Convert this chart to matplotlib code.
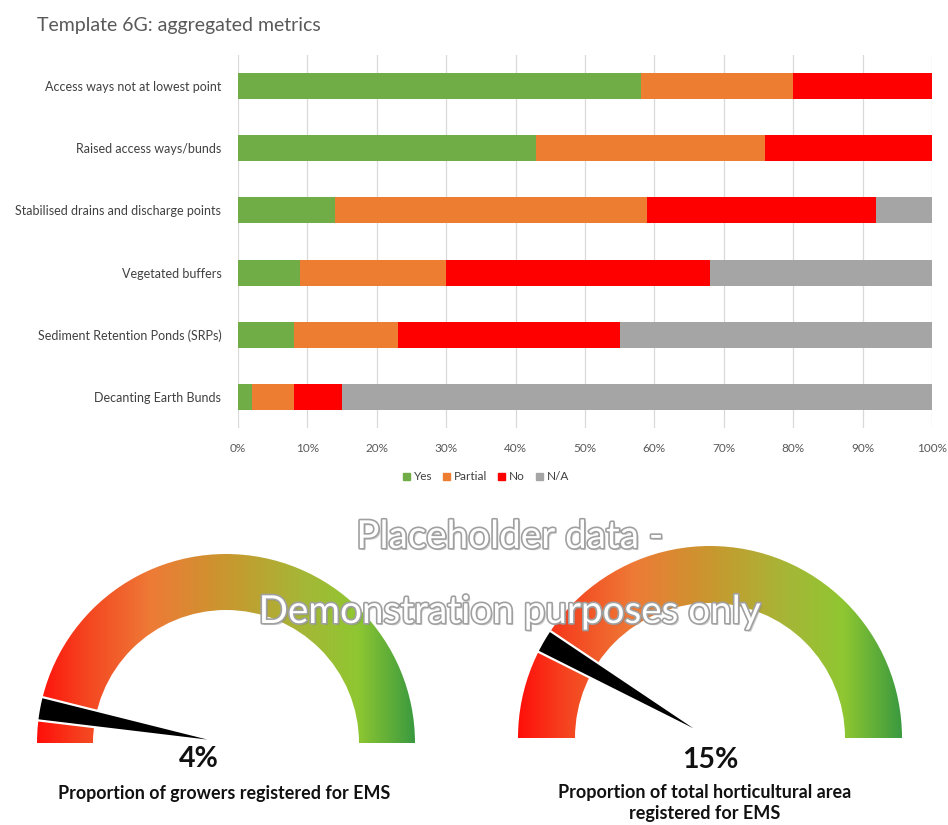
import numpy as np
import matplotlib
matplotlib.use("Agg")
import matplotlib.pyplot as plt
from matplotlib.patches import Wedge, Polygon, Patch
from matplotlib.colors import LinearSegmentedColormap
import matplotlib.patheffects as pe

plt.rcParams['font.family'] = ['Lato', 'DejaVu Sans']

# --- data ---
categories = ["Access ways not at lowest point", "Raised access ways/bunds",
              "Stabilised drains and discharge points", "Vegetated buffers",
              "Sediment Retention Ponds (SRPs)", "Decanting Earth Bunds"]
yes = [58, 43, 14, 9, 8, 2]
partial = [22, 33, 45, 21, 15, 6]
no = [20, 24, 33, 38, 32, 7]
na = [0, 0, 8, 32, 45, 85]
series_names = ["Yes", "Partial", "No", "N/A"]
series_colors = ["#70AD47", "#ED7D31", "#FF0000", "#A5A5A5"]

gauge_values = [4, 15]
gauge_labels = ["Proportion of growers registered for EMS",
                "Proportion of total horticultural area\nregistered for EMS"]

W, H = 948, 825
fig = plt.figure(figsize=(W / 100, H / 100), dpi=100)

fig.text(37 / W, 1 - 25 / H, "Template 6G: aggregated metrics", fontsize=14,
         color="#595959", ha="left", va="center")

# --- stacked bars ---
ax = fig.add_axes([238 / W, 1 - 428 / H, (932 - 238) / W, (428 - 55) / H])
y = np.arange(len(categories))
left = np.zeros(len(categories))
for vals, name, col in zip([yes, partial, no, na], series_names, series_colors):
    ax.barh(y, vals, left=left, height=0.42, color=col, label=name, zorder=2)
    left += np.array(vals)

ax.set_xlim(0, 100)
ax.set_ylim(len(categories) - 0.5, -0.5)
ax.set_yticks(y)
ax.set_yticklabels(categories, fontsize=9, color="#404040")
ax.set_xticks(np.arange(0, 101, 10))
ax.set_xticklabels([f"{v}%" for v in range(0, 101, 10)], fontsize=8.5, color="#595959")
ax.tick_params(axis="both", length=0)
ax.tick_params(axis="y", pad=12)
ax.tick_params(axis="x", pad=11)
ax.grid(axis="x", color="#D9D9D9", lw=0.9, zorder=0)
for s in ax.spines.values():
    s.set_visible(False)

handles = [Patch(color=c, label=n) for n, c in zip(series_names, series_colors)]
fig.legend(handles=handles, loc="center", bbox_to_anchor=(486 / W, 1 - 477 / H),
           ncol=4, frameon=False, fontsize=8.5, handlelength=0.6, handleheight=0.6,
           handletextpad=0.35, columnspacing=0.9, labelcolor="#404040")

# --- gauges on an overlay in pixel units ---
ov = fig.add_axes([0, 0, 1, 1])
ov.set_xlim(0, W)
ov.set_ylim(0, H)
ov.axis("off")

cmap = LinearSegmentedColormap.from_list("gauge", [
    (0.0, "#FF0F0A"), (0.12, "#F5421F"), (0.3, "#EE7A36"), (0.5, "#C9972F"),
    (0.7, "#A6B637"), (0.85, "#8FC731"), (1.0, "#3B9A3F")])
grad = np.linspace(0, 1, 256).reshape(1, -1)

gauges = [(226, 743, 189, 133), (710, 738, 192, 135)]
for (cx, cyp, R, r), val in zip(gauges, gauge_values):
    cy = H - cyp
    ring = Wedge((cx, cy), R, 0, 180, width=R - r, transform=ov.transData)
    im = ov.imshow(grad, extent=[cx - R, cx + R, cy, cy + R], cmap=cmap,
                   aspect="auto", zorder=2)
    im.set_clip_path(ring)
    a1 = 180 - val / 100 * 180
    a2 = a1 - 6.5
    arc = np.radians(np.linspace(a1, a2, 10))
    am = np.radians((a1 + a2) / 2)
    pts = [(cx + R * np.cos(t), cy + R * np.sin(t)) for t in arc]
    pts.append((cx + 0.1 * R * np.cos(am), cy + 0.1 * R * np.sin(am)))
    # white halo first, then the black needle on top
    ov.add_patch(Polygon(pts, closed=True, facecolor="white", edgecolor="white",
                         lw=3.2, zorder=3))
    ov.add_patch(Polygon(pts, closed=True, facecolor="black", edgecolor="none",
                         zorder=3.5))

ov.set_xlim(0, W)
ov.set_ylim(0, H)

ov.text(199, H - 759, f"{gauge_values[0]}%", fontsize=20.5, fontweight="bold",
        ha="center", va="center", color="#111111", zorder=4)
ov.text(224, H - 793, gauge_labels[0], fontsize=12.9, fontweight="bold",
        ha="center", va="center", color="#111111", zorder=4)
ov.text(710, H - 760, f"{gauge_values[1]}%", fontsize=20.5, fontweight="bold",
        ha="center", va="center", color="#111111", zorder=4)
ov.text(705, H - 803, gauge_labels[1], fontsize=13, fontweight="bold",
        ha="center", va="center", color="#111111", linespacing=1.3, zorder=4)

# watermark
wm_fx = [pe.withSimplePatchShadow(offset=(1.5, -1.5), shadow_rgbFace="#777777", alpha=0.35),
         pe.Stroke(linewidth=2.4, foreground="#A0A0A0"), pe.Normal()]
ov.text(510, H - 537, "Placeholder data -", fontsize=27.8, color="white",
        ha="center", va="center", path_effects=wm_fx, zorder=6)
ov.text(510, H - 612, "Demonstration purposes only", fontsize=27.8, color="white",
        ha="center", va="center", path_effects=wm_fx, zorder=6)

fig.savefig("out.png", dpi=100)
